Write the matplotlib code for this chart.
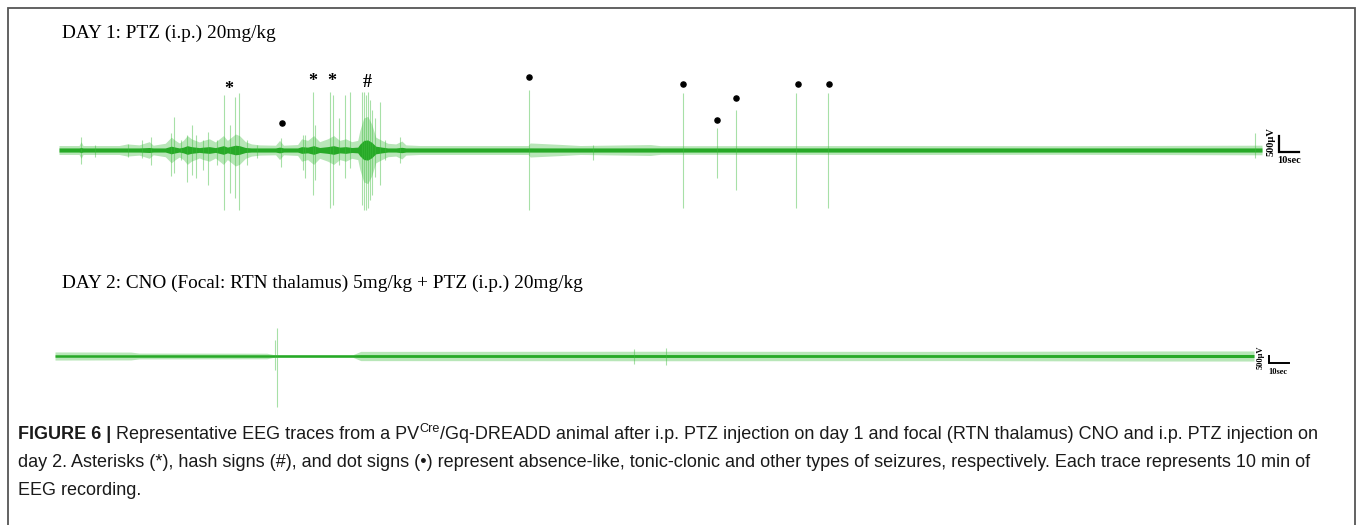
import matplotlib
matplotlib.use("Agg")
import matplotlib.pyplot as plt
from matplotlib.patches import Rectangle

# ---------------- data ----------------
# DAY 1 trace: time (s, 0-600) and spike extents (µV)
day1_spike_t = [11.0, 18.0, 34.4, 41.4, 45.9, 55.9, 57.4, 60.8, 63.8, 66.3, 68.3, 71.8,
                74.3, 78.8, 82.3, 85.3, 87.8, 89.8, 93.8, 98.8, 110.7, 121.7, 122.7,
                126.7, 127.7, 135.2, 136.7, 139.7, 142.6, 145.1, 151.1, 152.1, 153.1,
                154.1, 155.1, 156.1, 157.6, 160.1, 162.6, 170.1, 234.4, 266.3, 311.2,
                328.2, 337.7, 367.6, 383.5, 596.5]
day1_spike_top = [406, 156, 188, 312, 406, 531, 1031, 312, 469, 781, 469, 312,
                  562, 312, 1719, 781, 1656, 1781, 312, 156, 375, 469, 469,
                  1812, 781, 1812, 1719, 1000, 1719, 1812, 1812, 1812, 1719,
                  1812, 1562, 1250, 1000, 1500, 312, 406, 1875, 156, 1781,
                  688, 1250, 1781, 1781, 531]
day1_spike_bottom = [-438, -219, -219, -250, -469, -812, -719, -312, -1000, -781, -875, -625,
                     -1094, -469, -1875, -1344, -1500, -1875, -469, -250, -531, -625, -875,
                     -1406, -938, -1812, -1719, -469, -875, -562, -1719, -1875, -1875,
                     -1812, -1562, -1406, -844, -1094, -312, -406, -1875, -312, -1812,
                     -875, -1250, -1812, -1812, -250]
# baseline envelope (half-width of the noise band, µV)
day1_env_t = [0, 10, 11, 12, 30, 34, 40, 45, 47, 53, 56, 58, 60, 62, 64, 66, 68, 70,
              72, 75, 78, 82, 84, 86, 88, 90, 93, 96, 100, 108, 110, 112, 119, 121,
              124, 127, 130, 134, 137, 140, 143, 146, 149, 150, 152, 154, 156, 158,
              161, 164, 168, 171, 173, 180, 234, 235, 250, 260, 295, 300, 420, 500,
              596, 600]
day1_env_amp = [140, 140, 260, 140, 140, 190, 160, 260, 150, 210, 400, 300, 220, 300,
                450, 350, 300, 250, 300, 350, 250, 450, 300, 400, 500, 450, 260, 190,
                160, 150, 300, 150, 170, 350, 300, 450, 260, 350, 450, 300, 350, 260,
                300, 600, 1000, 1050, 800, 400, 300, 210, 190, 280, 160, 140, 140,
                220, 175, 140, 170, 135, 140, 135, 150, 150]
day1_core = 65

# seizure annotations (time s, height µV, symbol)
mark_t = [84.8, 111.2, 126.7, 136.2, 153.6, 234.4, 311.2, 328.2, 337.7, 368.6, 384.0]
mark_v = [1875, 844, 2125, 2125, 2094, 2281, 2062, 938, 1625, 2062, 2062]
mark_sym = ["*", "•", "*", "*", "#", "•", "•", "•", "•", "•", "•"]

# DAY 2 trace
day2_spike_t = [110.1, 111.1, 289.8, 305.8]
day2_spike_top = [1143, 2000, 500, 571]
day2_spike_bottom = [-1000, -3643, -571, -643]
day2_env_t = [0, 38, 42, 106, 109, 111, 149, 153, 300, 450, 550, 600]
day2_env_amp = [290, 280, 210, 200, 110, 90, 90, 330, 340, 330, 360, 360]
day2_core = 90

titles = ["DAY 1: PTZ (i.p.) 20mg/kg",
          "DAY 2: CNO (Focal: RTN thalamus) 5mg/kg + PTZ (i.p.) 20mg/kg"]
scale_v_label = "500µV"
scale_h_label = "10sec"

# ---------------- figure ----------------
W, H = 1357, 525
fig = plt.figure(figsize=(W / 100, H / 100), dpi=100)
fig.patch.set_facecolor("white")


def fx(px):
    return px / W


def fy(py):
    return 1 - py / H


# outer frame
fig.patches.append(Rectangle((fx(8), fy(540)), fx(1355) - fx(8), fy(8) - fy(540),
                             transform=fig.transFigure, fill=False,
                             edgecolor="#555555", linewidth=1.3))

SERIF = "Liberation Serif"
GREEN_CORE = "#17a317"
GREEN_FUZZ = "#62c862"
GREEN_SPIKE = "#3cbc3c"


def make_axes(x0, x1, ytop, ybot):
    ax = fig.add_axes([fx(x0), fy(ybot), fx(x1) - fx(x0), fy(ytop) - fy(ybot)])
    ax.set_xlim(0, 600)
    ax.axis("off")
    return ax


def draw_trace(ax, env_t, env_amp, core, st, stop, sbot):
    ax.vlines(st, sbot, stop, color=GREEN_SPIKE, alpha=0.45, linewidth=0.8)
    ax.fill_between(env_t, [-a for a in env_amp], env_amp, color=GREEN_FUZZ,
                    alpha=0.45, linewidth=0)
    core_env = [max(core, a * 0.3) for a in env_amp]
    ax.fill_between(env_t, [-c for c in core_env], core_env, color=GREEN_CORE,
                    alpha=0.9, linewidth=0)


# DAY 1 axes: trace x 59..1262 px, baseline y=150 px, 31.25 µV/px
ax1 = make_axes(59, 1262, 60, 240)
ax1.set_ylim(-2812.5, 2812.5)
draw_trace(ax1, day1_env_t, day1_env_amp, day1_core,
           day1_spike_t, day1_spike_top, day1_spike_bottom)
for t, v, s in zip(mark_t, mark_v, mark_sym):
    if s == "•":
        ax1.plot([t], [v], "o", color="black", markersize=3.7, clip_on=False)
    else:
        ax1.text(t, v, s, ha="center", va="center", fontsize=13,
                 fontweight="bold", family=SERIF, color="black", clip_on=False)
# scale bar 1
ax1.plot([608.5, 608.5, 618.5], [438, -62, -62], color="black", lw=1.6,
         clip_on=False, solid_joinstyle="miter")
ax1.text(604.6, 250, scale_v_label, rotation=90, ha="center", va="center",
         fontsize=7.5, fontweight="bold", family=SERIF, clip_on=False)
ax1.text(607.5, -330, scale_h_label, ha="left", va="center",
         fontsize=7.5, fontweight="bold", family=SERIF, clip_on=False)

# DAY 2 axes: trace x 55..1254 px, baseline y=356 px, 71.4 µV/px
ax2 = make_axes(55, 1254, 296, 416)
ax2.set_ylim(-4286, 4286)
draw_trace(ax2, day2_env_t, day2_env_amp, day2_core,
           day2_spike_t, day2_spike_top, day2_spike_bottom)
ax2.plot([607.6, 607.6, 617.6], [0, -500, -500], color="black", lw=1.4,
         clip_on=False, solid_joinstyle="miter")
ax2.text(603.3, -80, scale_v_label, rotation=90, ha="center", va="center",
         fontsize=6, fontweight="bold", family=SERIF, clip_on=False)
ax2.text(607.0, -1140, scale_h_label, ha="left", va="center",
         fontsize=6, fontweight="bold", family=SERIF, clip_on=False)

# titles
fig.text(fx(62), fy(33), titles[0], family=SERIF, fontsize=13.9,
         ha="left", va="center")
fig.text(fx(62), fy(283), titles[1], family=SERIF, fontsize=13.9,
         ha="left", va="center")

# caption (chained text pieces)
renderer = fig.canvas.get_renderer()
CAP_FS = 13.0
CAP_COL = "#1a1a1a"
CAP_FAM = "Liberation Sans"


def chain(pieces, x_px, y_px):
    x = x_px
    for txt, weight, size, dy in pieces:
        t = fig.text(fx(x), fy(y_px - dy), txt, fontsize=size, fontweight=weight,
                     family=CAP_FAM, color=CAP_COL, ha="left", va="baseline")
        bb = t.get_window_extent(renderer=renderer)
        x += bb.width


chain([("FIGURE 6 | ", "bold", CAP_FS, 0),
       ("Representative EEG traces from a PV", "normal", CAP_FS, 0),
       ("Cre", "normal", CAP_FS * 0.7, 7),
       ("/Gq-DREADD animal after i.p. PTZ injection on day 1 and focal (RTN thalamus) "
        "CNO and i.p. PTZ injection on", "normal", CAP_FS, 0)], 18, 439)
chain([("day 2. Asterisks (*), hash signs (#), and dot signs (•) represent absence-like, "
        "tonic-clonic and other types of seizures, respectively. Each trace represents "
        "10 min of", "normal", CAP_FS, 0)], 18, 467)
chain([("EEG recording.", "normal", CAP_FS, 0)], 18, 495)

fig.savefig("out.png", dpi=100, facecolor="white")
